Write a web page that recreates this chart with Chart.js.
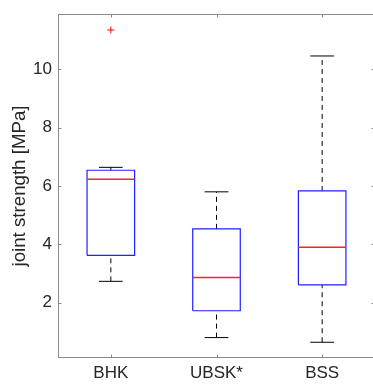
<!DOCTYPE html>
<html>
<head>
<meta charset="utf-8">
<script src="https://cdn.jsdelivr.net/npm/chart.js@4.4.1/dist/chart.umd.min.js"></script>
<style>
  html, body { margin: 0; padding: 0; background: #fff; overflow: hidden; }
  #wrap { position: absolute; left: 0; top: 0; width: 380px; height: 385px; }
</style>
</head>
<body>
<div id="wrap"><canvas id="myChart"></canvas></div>
<script>
const categories = ["BHK", "UBSK*", "BSS"];
const lowerWhisker = [2.73, 0.80, 0.64];
const q1Values = [3.62, 1.72, 2.61];
const medianValues = [6.23, 2.86, 3.90];
const q3Values = [6.54, 4.53, 5.83];
const upperWhisker = [6.64, 5.80, 10.46];
const outliers = [[11.35], [], []];
const yTicks = [2, 4, 6, 8, 10];

const axisColor = "#8a8a8a";
const textColor = "#262626";
const fontFamily = "'Liberation Sans', Arial, sans-serif";
const boxHalf = 0.225;
const capHalf = 0.1125;

function seg(points, color, dash, width) {
  return {
    data: points,
    showLine: true,
    borderColor: color,
    borderWidth: width || 1,
    borderDash: dash || [],
    pointRadius: 0,
    fill: false
  };
}

var datasets = [];
categories.forEach(function (c, i) {
  const x = i + 1;
  // median (first so it sits on top)
  datasets.push(seg([{x: x - boxHalf, y: medianValues[i]}, {x: x + boxHalf, y: medianValues[i]}], "#ff2020", [], 1.5));
  // box
  datasets.push(seg([
    {x: x - boxHalf, y: q1Values[i]}, {x: x + boxHalf, y: q1Values[i]},
    {x: x + boxHalf, y: q3Values[i]}, {x: x - boxHalf, y: q3Values[i]},
    {x: x - boxHalf, y: q1Values[i]}
  ], "#2020ff", [], 1.2));
  // whiskers
  datasets.push(seg([{x: x, y: q3Values[i]}, {x: x, y: upperWhisker[i]}], "#000", [5, 4]));
  datasets.push(seg([{x: x, y: lowerWhisker[i]}, {x: x, y: q1Values[i]}], "#000", [5, 4]));
  datasets.push(seg([{x: x - capHalf, y: upperWhisker[i]}, {x: x + capHalf, y: upperWhisker[i]}], "#000"));
  datasets.push(seg([{x: x - capHalf, y: lowerWhisker[i]}, {x: x + capHalf, y: lowerWhisker[i]}], "#000"));
  // outliers
  if (outliers[i].length) {
    datasets.push({
      data: outliers[i].map(function (v) { return {x: x, y: v}; }),
      showLine: false,
      pointStyle: "cross",
      pointRadius: 3.5,
      borderColor: "#ff0000",
      borderWidth: 1
    });
  }
});

// box frame with inward ticks, MATLAB style
const framePlugin = {
  id: "frame",
  afterDraw: function (chart) {
    const a = chart.chartArea;
    const ctx = chart.ctx;
    const xs = chart.scales.x, ys = chart.scales.y;
    ctx.save();
    ctx.strokeStyle = axisColor;
    ctx.lineWidth = 1;
    ctx.beginPath();
    const L = Math.round(a.left) + 0.5, R = Math.round(a.right) - 0.5;
    const T = Math.round(a.top) + 0.5, B = Math.round(a.bottom) - 0.5;
    ctx.moveTo(L, T); ctx.lineTo(R, T); ctx.lineTo(R, B); ctx.lineTo(L, B); ctx.closePath();
    ys.ticks.forEach(function (t) {
      const p = Math.round(ys.getPixelForValue(t.value)) + 0.5;
      ctx.moveTo(L, p); ctx.lineTo(L + 3, p);
      ctx.moveTo(R, p); ctx.lineTo(R - 3, p);
    });
    xs.ticks.forEach(function (t) {
      const p = Math.round(xs.getPixelForValue(t.value)) + 0.5;
      ctx.moveTo(p, B); ctx.lineTo(p, B - 3);
      ctx.moveTo(p, T); ctx.lineTo(p, T + 3);
    });
    ctx.stroke();
    ctx.restore();
  }
};

new Chart("myChart", {
  type: "scatter",
  data: { datasets: datasets },
  options: {
    responsive: true,
    maintainAspectRatio: false,
    animation: false,
    layout: { padding: { top: 14, right: 4, left: 0, bottom: 0 } },
    plugins: { legend: { display: false }, tooltip: { enabled: false } },
    scales: {
      x: {
        type: "linear",
        min: 0.5,
        max: 3.5,
        grid: { display: false, drawTicks: false, tickLength: 0 },
        border: { display: false },
        afterBuildTicks: function (s) { s.ticks = categories.map(function (c, i) { return {value: i + 1}; }); },
        afterFit: function (s) { s.height = 27; s.paddingLeft = 0; s.paddingRight = 0; },
        ticks: {
          padding: 5,
          maxRotation: 0,
          color: textColor,
          font: { family: fontFamily, size: 17 },
          callback: function (v) { return categories[v - 1]; }
        }
      },
      y: {
        min: 0.1,
        max: 11.9,
        grid: { display: false, drawTicks: false, tickLength: 0 },
        border: { display: false },
        afterBuildTicks: function (s) { s.ticks = yTicks.map(function (v) { return {value: v}; }); },
        afterFit: function (s) { s.width = 58; s.paddingTop = 0; s.paddingBottom = 0; },
        ticks: { padding: 6, color: textColor, font: { family: fontFamily, size: 17 } },
        title: {
          display: true,
          text: "joint strength [MPa]",
          color: textColor,
          font: { family: fontFamily, size: 18.7 },
          padding: { top: 9, bottom: 0 }
        }
      }
    }
  },
  plugins: [framePlugin]
});
</script>
</body>
</html>
